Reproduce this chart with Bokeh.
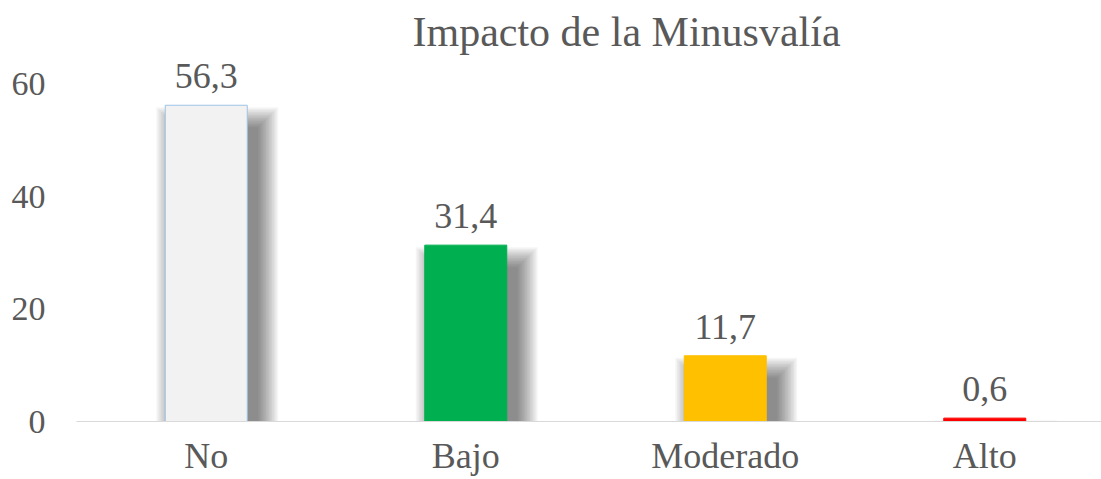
from bokeh.plotting import figure
from bokeh.models import Range1d, FixedTicker, ColumnDataSource
from bokeh.core.properties import value as pv
from bokeh.embed import file_html
from bokeh.resources import INLINE

# ---- data ----
categories = ["No", "Bajo", "Moderado", "Alto"]
values = [56.3, 31.4, 11.7, 0.6]
fill_colors = ["#F2F2F2", "#00B050", "#FFC000", "#FF0000"]
line_colors = ["#9DC3E6", "#00B050", "#FFC000", "#FF0000"]
yticks = [0, 20, 40, 60]
title_text = "Impacto de la Minusvalía"

# ---- geometry helpers (styling only) ----
PX_X = 1 / 259.5          # data units per pixel along x
PX_Y = 1 / 5.617          # data units per pixel along y
BAR_W = 82 * PX_X
FONT = "Liberation Serif"
TXT = "#595959"

xs = [i + 0.5 for i in range(len(categories))]
labels = [f"{v:.1f}".replace(".", ",") for v in values]

p = figure(width=1101, height=479,
           x_range=Range1d(0, 1025 * PX_X), y_range=Range1d(0, 361 * PX_Y),
           output_backend="svg", toolbar_location=None,
           min_border_left=76, min_border_right=0,
           min_border_top=60, min_border_bottom=58)

p.title.text = title_text
p.title.align = "left"
p.title.offset = 336
p.title.text_font = FONT
p.title.text_font_size = "42px"
p.title.text_font_style = "normal"
p.title.text_color = TXT
p.title.standoff = 12

p.outline_line_color = None
p.xgrid.visible = False
p.ygrid.visible = False
p.background_fill_color = "white"
p.border_fill_color = "white"

# ---- soft shadows behind bars ----
n = 14
blur = 20
dx, dy = 11, 22
for i in range(n):
    g = blur * (1 - i / (n - 1))
    src = ColumnDataSource(dict(
        left=[x - BAR_W / 2 + (dx - g) * PX_X for x in xs],
        right=[x + BAR_W / 2 + (dx + g) * PX_X for x in xs],
        top=[v - (dy - g) * PX_Y for v in values],
        bottom=[-5 for _ in values],
    ))
    p.quad(left="left", right="right", top="top", bottom="bottom", source=src,
           fill_color="#000000", fill_alpha=0.04, line_color=None)

# ---- bars ----
bars = ColumnDataSource(dict(x=xs, top=values, fill=fill_colors, line=line_colors,
                             cat=categories, lab=labels,
                             ly=[v + 17 * PX_Y for v in values]))
p.vbar(x="x", top="top", width=BAR_W, bottom=0, source=bars,
       fill_color="fill", line_color="line", line_width=1)

# ---- data labels ----
p.text(x="x", y="ly", text="lab", source=bars,
       text_align="center", text_baseline="bottom",
       text_font=pv(FONT), text_font_size="36px", text_color=TXT)

# ---- axes ----
p.yaxis.ticker = FixedTicker(ticks=yticks)
p.yaxis.axis_line_color = None
p.yaxis.major_tick_line_color = None
p.yaxis.minor_tick_line_color = None
p.yaxis.major_tick_out = 0
p.yaxis.major_tick_in = 0
p.yaxis.major_label_standoff = 31
p.yaxis.major_label_text_font = FONT
p.yaxis.major_label_text_font_size = "34px"
p.yaxis.major_label_text_color = TXT

p.xaxis.ticker = FixedTicker(ticks=xs)
p.xaxis.major_label_overrides = {x: c for x, c in zip(xs, categories)}
p.xaxis.axis_line_color = "#D9D9D9"
p.xaxis.axis_line_width = 1
p.xaxis.major_tick_line_color = None
p.xaxis.minor_tick_line_color = None
p.xaxis.major_tick_out = 0
p.xaxis.major_tick_in = 0
p.xaxis.major_label_standoff = 14
p.xaxis.major_label_text_font = FONT
p.xaxis.major_label_text_font_size = "36px"
p.xaxis.major_label_text_color = TXT

open("out.html", "w").write(file_html(p, INLINE))
